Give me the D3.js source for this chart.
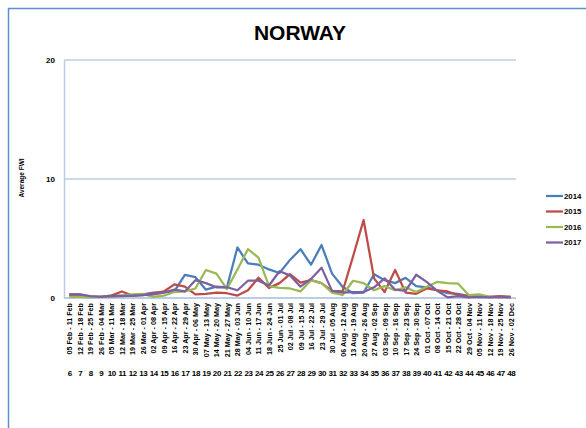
<!DOCTYPE html>
<html>
<head>
<meta charset="utf-8">
<script src="https://cdn.jsdelivr.net/npm/d3@7"></script>
<style>
  html, body { margin: 0; padding: 0; background: #fff; }
  svg { display: block; }
  text { font-family: "Liberation Sans", Arial, sans-serif; font-weight: bold; fill: #000; }
</style>
</head>
<body>
<svg id="chart" width="586" height="428"></svg>
<script>
// Week numbers and the date span each week covers
const weeks = [6,7,8,9,10,11,12,13,14,15,16,17,18,19,20,21,22,23,24,25,26,27,28,29,30,31,32,33,34,35,36,37,38,39,40,41,42,43,44,45,46,47,48];
const weekSpans = [
  "05 Feb - 11 Feb","12 Feb - 18 Feb","19 Feb - 25 Feb","26 Feb - 04 Mar","05 Mar - 11 Mar",
  "12 Mar - 18 Mar","19 Mar - 25 Mar","26 Mar - 01 Apr","02 Apr - 08 Apr","09 Apr - 15 Apr",
  "16 Apr - 22 Apr","23 Apr - 29 Apr","30 Apr - 06 May","07 May - 13 May","14 May - 20 May",
  "21 May - 27 May","28 May - 03 Jun","04 Jun - 10 Jun","11 Jun - 17 Jun","18 Jun - 24 Jun",
  "25 Jun - 01 Jul","02 Jul - 08 Jul","09 Jul - 15 Jul","16 Jul - 22 Jul","23 Jul - 29 Jul",
  "30 Jul - 05 Aug","06 Aug - 12 Aug","13 Aug - 19 Aug","20 Aug - 26 Aug","27 Aug - 02 Sep",
  "03 Sep - 09 Sep","10 Sep - 16 Sep","17 Sep - 23 Sep","24 Sep - 30 Sep","01 Oct - 07 Oct",
  "08 Oct - 14 Oct","15 Oct - 21 Oct","22 Oct - 28 Oct","29 Oct - 04 Nov","05 Nov - 11 Nov",
  "12 Nov - 18 Nov","19 Nov - 25 Nov","26 Nov - 02 Dec"
];

// Average FWI per week, one array per season
const fwi2014 = [0.3,0.3,0.1,0.1,0.2,0.2,0.2,0.3,0.45,0.5,0.55,1.95,1.75,0.7,0.95,0.9,4.25,2.9,2.8,2.4,2.1,3.2,4.1,2.8,4.45,2.05,0.95,0.4,0.45,2.0,1.5,1.25,1.7,1.0,0.9,0.65,0.4,0.35,0.15,0.1,0.1,0.1,0.1];
const fwi2015 = [0.2,0.2,0.1,0.1,0.2,0.55,0.2,0.25,0.4,0.55,1.15,0.95,0.3,0.35,0.45,0.4,0.2,0.65,1.7,0.85,1.25,2.0,1.3,1.5,1.25,0.6,0.55,3.5,6.55,1.65,0.5,2.35,0.45,0.35,0.8,0.65,0.55,0.25,0.15,0.1,0.1,0.15,0.1];
const fwi2016 = [0.1,0.1,0.05,0.1,0.1,0.2,0.3,0.35,0.1,0.2,0.5,0.55,0.8,2.35,2.05,0.75,2.4,4.1,3.4,1.0,0.85,0.8,0.55,1.5,1.25,0.45,0.25,1.45,1.25,0.65,1.0,0.65,0.9,0.5,0.95,1.35,1.25,1.2,0.25,0.3,0.1,0.05,0.05];
const fwi2017 = [0.3,0.3,0.15,0.1,0.15,0.15,0.2,0.25,0.3,0.45,0.7,0.55,1.5,1.25,0.9,0.9,0.65,1.45,1.45,1.05,2.25,1.9,0.95,1.6,2.55,0.6,0.45,0.5,0.5,0.9,1.65,0.7,0.6,1.95,1.35,0.6,0.05,0.15,0.05,0.1,0.05,0.1,0.05];

const seriesNames = ["2014","2015","2016","2017"];
const seriesValues = [fwi2014, fwi2015, fwi2016, fwi2017];
const seriesColors = ["#4a7ebb","#be4b48","#98b954","#7d60a0"];
const yTicks = [0,10,20];

const svg = d3.select("#chart");

// Outer chart frame
svg.append("rect")
  .attr("x", 8.5).attr("y", 8.5)
  .attr("width", 700).attr("height", 500)
  .attr("fill", "none").attr("stroke", "#5b8fd1").attr("stroke-width", 1.5);

const plot = { left: 64, right: 516, top: 60, bottom: 298 };

const x = d3.scalePoint().domain(weeks).range([plot.left, plot.right]).padding(0.5);
const y = d3.scaleLinear().domain([0, 20]).range([plot.bottom, plot.top]);

// Horizontal gridlines
svg.append("g")
  .selectAll("line")
  .data(yTicks.filter(d => d > 0))
  .join("line")
  .attr("x1", plot.left).attr("x2", plot.right)
  .attr("y1", d => y(d)).attr("y2", d => y(d))
  .attr("stroke", "#b9cde5").attr("stroke-width", 1.5);

// Y axis
const yAxis = svg.append("g")
  .attr("transform", `translate(${plot.left},0)`)
  .call(d3.axisLeft(y).tickValues(yTicks).tickSize(0).tickPadding(9));
yAxis.select(".domain").attr("stroke", "#b9cde5").attr("stroke-width", 1.5);
yAxis.selectAll("text")
  .style("font-size", "8px").style("font-weight", "bold")
  .style("font-family", "'Liberation Sans', Arial, sans-serif");

// X axis with rotated week spans
const xAxis = svg.append("g")
  .attr("transform", `translate(0,${plot.bottom})`)
  .call(d3.axisBottom(x).tickSize(0).tickFormat((d, i) => weekSpans[i]));
xAxis.select(".domain")
  .attr("d", `M${plot.left},0H${plot.right}`)
  .attr("stroke", "#b9cde5").attr("stroke-width", 2);
xAxis.selectAll("text")
  .attr("transform", "rotate(-90)")
  .attr("text-anchor", "end")
  .attr("x", -5).attr("y", 0).attr("dy", "0.35em")
  .style("font-size", "7.2px").style("font-weight", "bold")
  .style("font-family", "'Liberation Sans', Arial, sans-serif");

// Week number row
const weekAxis = svg.append("g")
  .attr("transform", `translate(0,${plot.bottom + 72})`)
  .call(d3.axisBottom(x).tickSize(0).tickPadding(0).tickFormat(d => String(d)));
weekAxis.select(".domain").remove();
weekAxis.selectAll("text")
  .style("font-size", "8px").style("font-weight", "bold")
  .style("font-family", "'Liberation Sans', Arial, sans-serif")
  .attr("letter-spacing", "-0.4");

// Series lines
const line = d3.line()
  .x((d, i) => x(weeks[i]))
  .y(d => y(d));

svg.append("g")
  .selectAll("path")
  .data(seriesValues)
  .join("path")
  .attr("d", d => line(d))
  .attr("fill", "none")
  .attr("stroke", (d, i) => seriesColors[i])
  .attr("stroke-width", 2.25)
  .attr("stroke-linejoin", "round");

// Title
svg.append("text")
  .attr("x", 300).attr("y", 40)
  .attr("text-anchor", "middle")
  .style("font-size", "21px")
  .text("NORWAY");

// Y axis title
svg.append("text")
  .attr("transform", "translate(24,178) rotate(-90)")
  .attr("text-anchor", "middle")
  .style("font-size", "6.5px")
  .text("Average FWI");

// Legend
const legend = svg.append("g")
  .selectAll("g")
  .data(seriesNames)
  .join("g")
  .attr("transform", (d, i) => `translate(546,${196 + i * 15.5})`);
legend.append("line")
  .attr("x1", 0).attr("x2", 17)
  .attr("stroke", (d, i) => seriesColors[i])
  .attr("stroke-width", 2.25);
legend.append("text")
  .attr("x", 18).attr("dy", "0.35em")
  .style("font-size", "7.8px")
  .text(d => d);
</script>
</body>
</html>
